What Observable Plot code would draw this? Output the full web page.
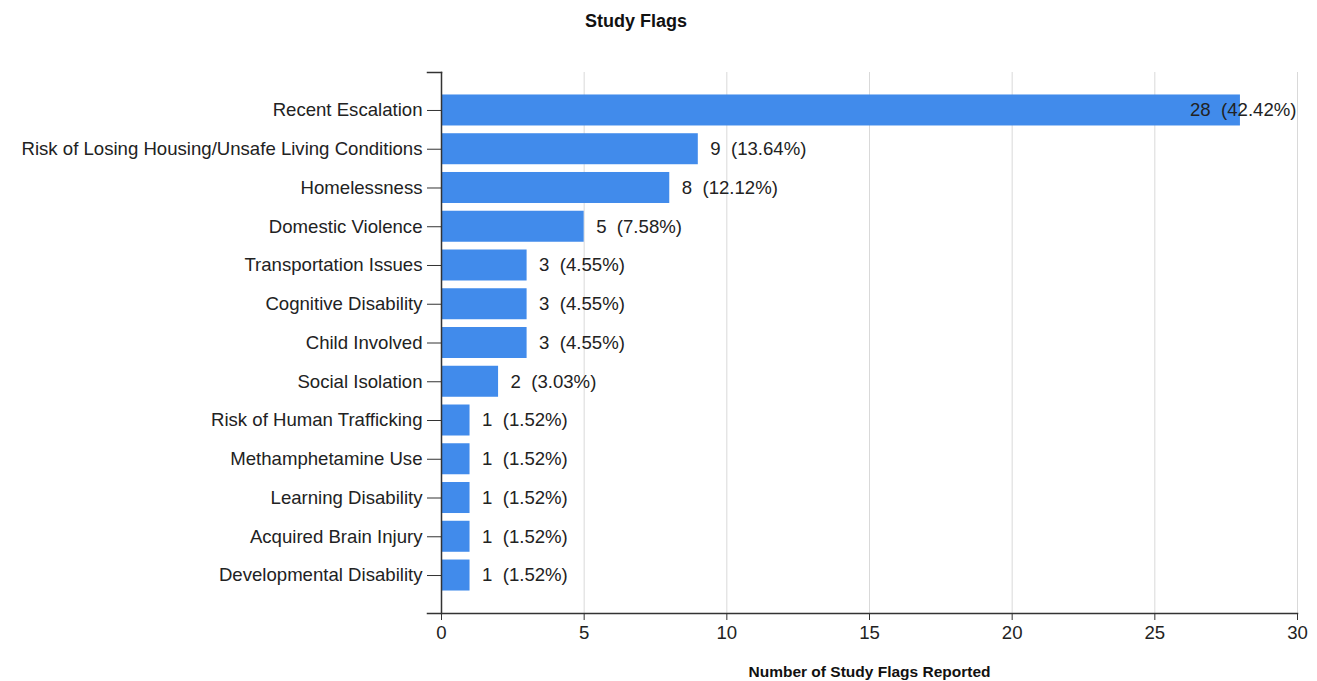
<!DOCTYPE html>
<html>
<head>
<meta charset="utf-8">
<script src="https://cdn.jsdelivr.net/npm/d3@7"></script>
<script src="https://cdn.jsdelivr.net/npm/@observablehq/plot@0.6"></script>
<style>
  html, body { margin: 0; padding: 0; background: #fff; }
  #wrap { position: relative; width: 1317px; height: 681px; font-family: "Liberation Sans", Arial, sans-serif; }
  #title { position: absolute; left: 0; top: 11px; width: 1272px; text-align: center; font-weight: bold; font-size: 18px; color: #111; }
  svg { display: block; }
</style>
</head>
<body>
<div id="wrap">
  <div id="title">Study Flags</div>
  <div id="chart"></div>
</div>
<script>
const categories = [
  "Recent Escalation",
  "Risk of Losing Housing/Unsafe Living Conditions",
  "Homelessness",
  "Domestic Violence",
  "Transportation Issues",
  "Cognitive Disability",
  "Child Involved",
  "Social Isolation",
  "Risk of Human Trafficking",
  "Methamphetamine Use",
  "Learning Disability",
  "Acquired Brain Injury",
  "Developmental Disability"
];
const counts = [28, 9, 8, 5, 3, 3, 3, 2, 1, 1, 1, 1, 1];
const percents = ["42.42%", "13.64%", "12.12%", "7.58%", "4.55%", "4.55%", "4.55%", "3.03%", "1.52%", "1.52%", "1.52%", "1.52%", "1.52%"];
const xTicks = [0, 5, 10, 15, 20, 25, 30];
const xLabel = "Number of Study Flags Reported";

const data = categories.map((c, i) => ({name: c, value: counts[i], pct: percents[i]}));
const labelText = d => `${d.value}\u00a0\u00a0(${d.pct})`;
const xMax = xTicks[xTicks.length - 1];
const fits = d => d.value < 25;
const FS = 18.6;

const chart = Plot.plot({
  width: 1317,
  height: 681,
  marginLeft: 441,
  marginRight: 20,
  marginTop: 72,
  marginBottom: 68,
  style: {fontFamily: "'Liberation Sans', Arial, sans-serif", fontSize: FS + "px", color: "#222", background: "#fff"},
  x: {domain: [0, xMax], ticks: xTicks},
  y: {domain: categories, paddingInner: 0.2, paddingOuter: 0.58, round: false},
  marks: [
    Plot.gridX(xTicks, {stroke: "#d9d9d9", strokeOpacity: 1}),
    Plot.barX(data, {y: "name", x: "value", fill: "#418BEB"}),
    Plot.text(data.filter(fits), {y: "name", x: "value", text: labelText, textAnchor: "start", dx: 12, fill: "#222", fontSize: FS}),
    Plot.text(data.filter(d => !fits(d)), {y: "name", frameAnchor: "right", text: labelText, textAnchor: "end", dx: -1, fill: "#222", fontSize: FS}),
    Plot.frame({anchor: "left", stroke: "#333", strokeWidth: 1.5}),
    Plot.frame({anchor: "bottom", stroke: "#333", strokeWidth: 1.5, insetLeft: -14}),
    Plot.frame({anchor: "top", stroke: "#333", strokeWidth: 1.5, insetLeft: -14, insetRight: 856}),
    Plot.axisY({tickSize: 14, tickPadding: 5, label: null, fontSize: FS, stroke: "#333"}),
    Plot.axisX(xTicks, {tickSize: 7, tickPadding: 5, label: null, fontSize: FS, stroke: "#333"}),
    Plot.text([xLabel], {frameAnchor: "bottom", dy: 63, fontWeight: "bold", fontSize: 15.5, fill: "#111"})
  ]
});
document.getElementById("chart").appendChild(chart);
</script>
</body>
</html>
